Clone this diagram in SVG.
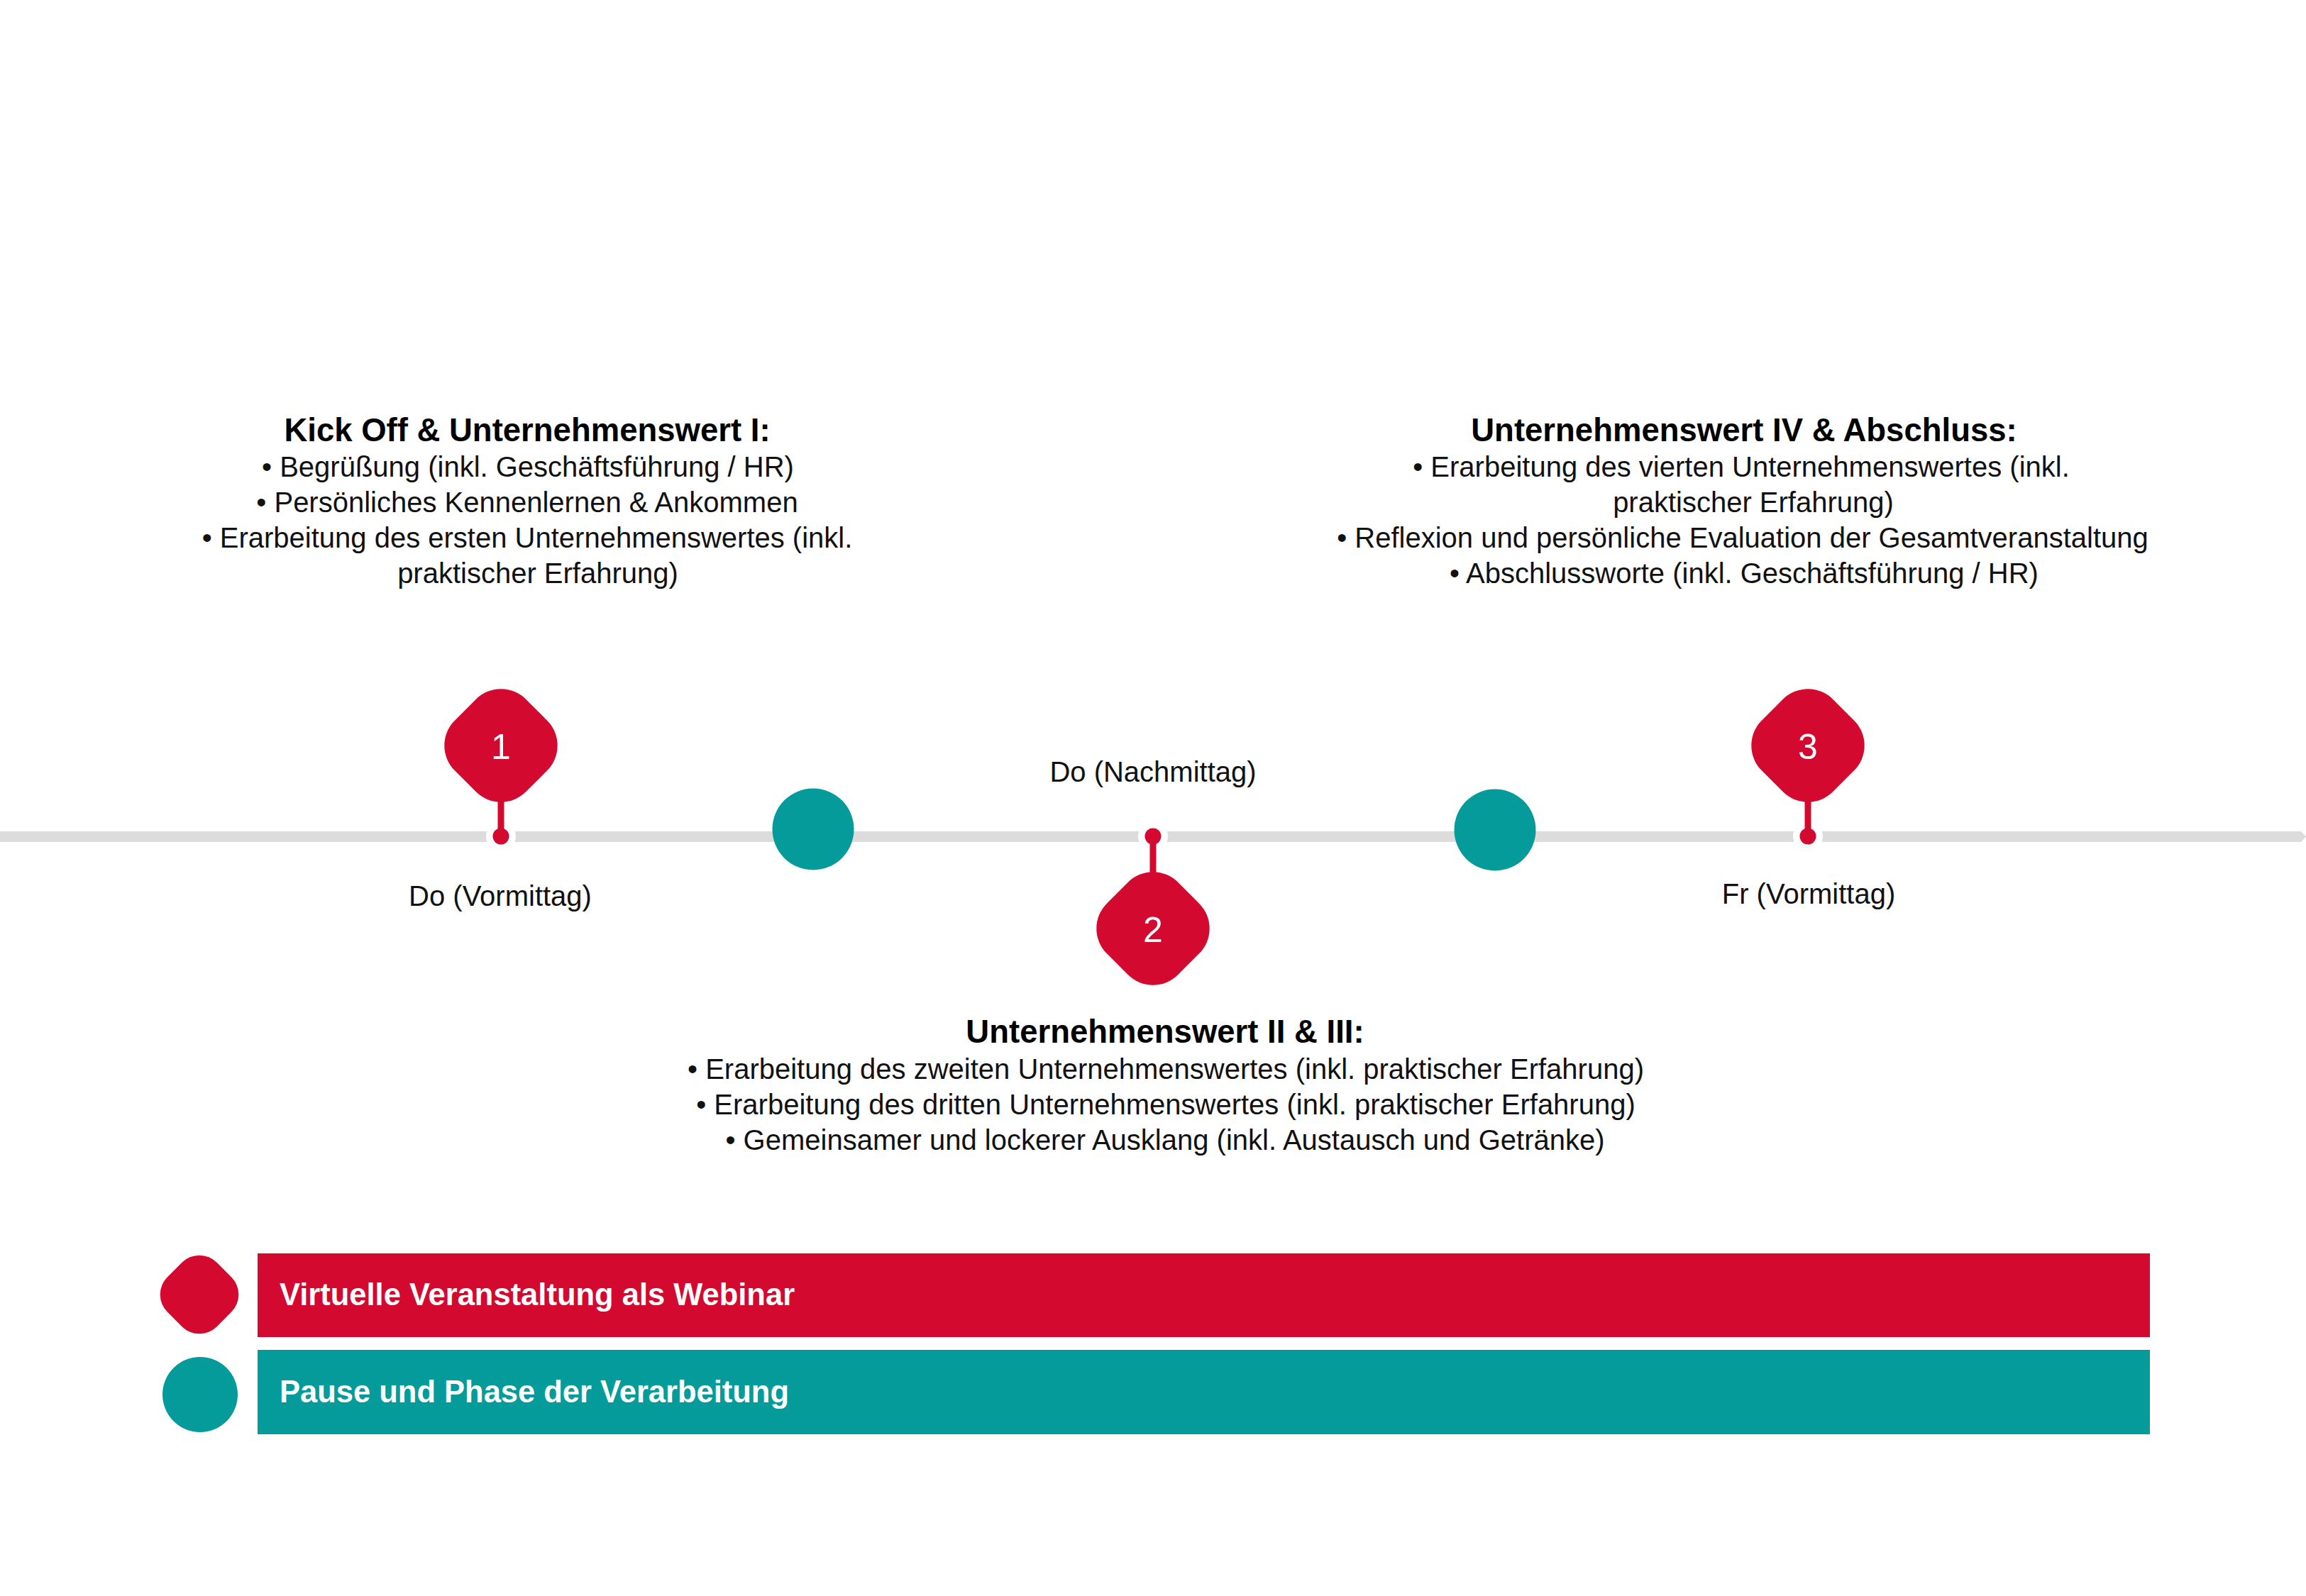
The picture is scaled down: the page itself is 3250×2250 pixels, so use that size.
<svg xmlns="http://www.w3.org/2000/svg" width="3250" height="2250" viewBox="0 0 3250 2250">
<style>
.t{font-family:"Liberation Sans",Arial,sans-serif;font-size:40px;fill:#111;text-anchor:middle}
.h{font-family:"Liberation Sans",Arial,sans-serif;font-size:45.5px;font-weight:bold;fill:#000;text-anchor:middle}
.n{font-family:"Liberation Sans",Arial,sans-serif;font-size:50px;fill:#fff;text-anchor:middle}
.lg{font-family:"Liberation Sans",Arial,sans-serif;font-size:43.5px;font-weight:bold;fill:#fff}
.red{fill:#d3092f}
.teal{fill:#059b9b}
</style>
<defs>
<rect id="dia" x="-71" y="-71" width="142" height="142" rx="50" ry="50" transform="rotate(45)"/>
</defs>
<rect width="3250" height="2250" fill="#fff"/>
<g id="connectors">
<polygon points="0,1172 3243,1172 3250,1179.5 3243,1187 0,1187" fill="#dcdcdc"/>
<circle cx="706" cy="1179" r="21" fill="#fff"/>
<circle cx="1625" cy="1179" r="21" fill="#fff"/>
<circle cx="2548" cy="1179" r="21" fill="#fff"/>
<rect x="701.5" y="1120" width="9" height="59" class="red"/>
<rect x="1620.5" y="1179" width="9" height="60" class="red"/>
<rect x="2543.5" y="1120" width="9" height="59" class="red"/>
<circle cx="706" cy="1179" r="11.5" class="red"/>
<circle cx="1625" cy="1179" r="11.5" class="red"/>
<circle cx="2548" cy="1179" r="11.5" class="red"/>
</g>
<g id="node1">
<use href="#dia" transform="translate(706,1051)" class="red"/>
<text class="n" x="706" y="1070">1</text>
<text class="t" x="705" y="1277">Do (Vormittag)</text>
<text class="h" x="743" y="622">Kick Off &amp; Unternehmenswert I:</text>
<text class="t" x="744" y="672">• Begrüßung (inkl. Geschäftsführung / HR)</text>
<text class="t" x="743" y="722">• Persönliches Kennenlernen &amp; Ankommen</text>
<text class="t" x="743" y="772">• Erarbeitung des ersten Unternehmenswertes (inkl.</text>
<text class="t" x="758" y="822">praktischer Erfahrung)</text>
</g>
<g id="pause1">
<circle cx="1146" cy="1169" r="57.5" class="teal"/>
</g>
<g id="node2">
<use href="#dia" transform="translate(1625,1309)" class="red"/>
<text class="n" x="1625" y="1328">2</text>
<text class="t" x="1625" y="1102">Do (Nachmittag)</text>
<text class="h" x="1642" y="1470">Unternehmenswert II &amp; III:</text>
<text class="t" x="1643" y="1521">• Erarbeitung des zweiten Unternehmenswertes (inkl. praktischer Erfahrung)</text>
<text class="t" x="1643" y="1571">• Erarbeitung des dritten Unternehmenswertes (inkl. praktischer Erfahrung)</text>
<text class="t" x="1642" y="1621">• Gemeinsamer und lockerer Ausklang (inkl. Austausch und Getränke)</text>
</g>
<g id="pause2">
<circle cx="2107" cy="1170" r="57.5" class="teal"/>
</g>
<g id="node3">
<use href="#dia" transform="translate(2548,1051)" class="red"/>
<text class="n" x="2548" y="1070">3</text>
<text class="t" x="2549" y="1274">Fr (Vormittag)</text>
<text class="h" x="2458" y="622">Unternehmenswert IV &amp; Abschluss:</text>
<text class="t" x="2454" y="672">• Erarbeitung des vierten Unternehmenswertes (inkl.</text>
<text class="t" x="2471" y="722">praktischer Erfahrung)</text>
<text class="t" x="2456" y="772">• Reflexion und persönliche Evaluation der Gesamtveranstaltung</text>
<text class="t" x="2458" y="822">• Abschlussworte (inkl. Geschäftsführung / HR)</text>
</g>
<g id="legend-webinar">
<use href="#dia" transform="translate(281,1825) scale(0.694)" class="red"/>
<rect x="363" y="1767" width="2667" height="118" class="red"/>
<text class="lg" x="394" y="1840">Virtuelle Veranstaltung als Webinar</text>
</g>
<g id="legend-pause">
<circle cx="282" cy="1966" r="53" class="teal"/>
<rect x="363" y="1903" width="2667" height="119" class="teal"/>
<text class="lg" x="394" y="1977">Pause und Phase der Verarbeitung</text>
</g>
</svg>
